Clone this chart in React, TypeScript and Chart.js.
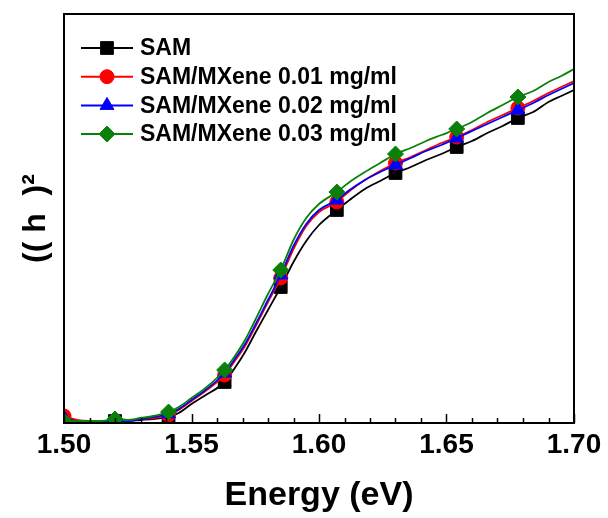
import React, { useEffect, useRef } from 'react';
import { Chart, registerables } from 'chart.js';
import { drawPoint } from 'chart.js/helpers';

Chart.register(...registerables);

// ---- data ----
const energy = [
  1.5, 1.505, 1.51, 1.515, 1.52, 1.525, 1.53, 1.535, 1.541, 1.545, 1.55, 1.555,
  1.563, 1.567, 1.571, 1.575, 1.58, 1.585, 1.59, 1.595, 1.6, 1.607, 1.612, 1.618,
  1.624, 1.63, 1.636, 1.642, 1.648, 1.654, 1.66, 1.666, 1.672, 1.678, 1.684, 1.69,
  1.695, 1.7,
];
const markerEnergy = [1.5, 1.52, 1.541, 1.563, 1.585, 1.607, 1.63, 1.654, 1.678];

const samValues = [
  0.02, 0.02, 0.02, 0.02, 0.02, 0.02, 0.03, 0.04, 0.06, 0.1, 0.19, 0.27,
  0.41, 0.55, 0.71, 0.9, 1.13, 1.36, 1.61, 1.82, 1.98, 2.13, 2.23, 2.34,
  2.42, 2.5, 2.56, 2.63, 2.69, 2.76, 2.82, 2.9, 2.97, 3.05, 3.11, 3.21,
  3.27, 3.33,
];
const mx001Values = [
  0.07, 0.03, 0.02, 0.02, 0.02, 0.02, 0.04, 0.05, 0.08, 0.13, 0.22, 0.31,
  0.48, 0.62, 0.77, 0.96, 1.21, 1.45, 1.74, 1.97, 2.11, 2.21, 2.32, 2.43,
  2.52, 2.6, 2.66, 2.73, 2.8, 2.86, 2.93, 3.01, 3.08, 3.15, 3.22, 3.3,
  3.36, 3.42,
];
const mx002Values = [
  0.05, 0.02, 0.02, 0.02, 0.02, 0.02, 0.04, 0.06, 0.09, 0.14, 0.23, 0.32,
  0.5, 0.64, 0.79, 0.98, 1.23, 1.48, 1.77, 1.99, 2.13, 2.23, 2.33, 2.43,
  2.51, 2.58, 2.65, 2.72, 2.78, 2.85, 2.92, 2.99, 3.06, 3.13, 3.2, 3.28,
  3.34, 3.4,
];
const mx003Values = [
  0.02, 0.02, 0.02, 0.02, 0.04, 0.03, 0.05, 0.07, 0.11, 0.16, 0.25, 0.34,
  0.53, 0.67, 0.83, 1.03, 1.29, 1.53, 1.83, 2.05, 2.19, 2.31, 2.41, 2.51,
  2.6, 2.69, 2.75, 2.82, 2.88, 2.94, 3.01, 3.1, 3.18, 3.26, 3.32, 3.41,
  3.47, 3.54,
];

const seriesNames = [
  'SAM',
  'SAM/MXene 0.01 mg/ml',
  'SAM/MXene 0.02 mg/ml',
  'SAM/MXene 0.03 mg/ml',
];
const seriesValues = [samValues, mx001Values, mx002Values, mx003Values];
const seriesColors = ['#000000', '#ff0000', '#0000ff', '#0a800a'];
const seriesMarkers = ['rect', 'circle', 'triangle', 'rectRot'];
const seriesMarkerRadius = [9, 7, 8, 8];

const xMin = 1.5;
const xMax = 1.7;
const xMajorStep = 0.05;
const xMinorStep = 0.01;
const yMin = 0;
const yMax = 4.09;
const xTitle = 'Energy (eV)';
const yTitle = '(( h  )²';

const FONT = "'Liberation Sans', Arial, Helvetica, sans-serif";

const frameAndTicks = {
  id: 'frameAndTicks',
  afterDraw(chart: any) {
    const { ctx, chartArea } = chart;
    const xs = chart.scales.x;
    ctx.save();
    ctx.strokeStyle = '#000';
    ctx.lineWidth = 1.5;
    const n = Math.round((xMax - xMin) / xMinorStep);
    const per = Math.round(xMajorStep / xMinorStep);
    for (let i = 0; i <= n; i++) {
      const v = xMin + i * xMinorStep;
      const px = Math.round(xs.getPixelForValue(v)) + 0.5;
      const len = i % per === 0 ? 9 : 5;
      ctx.beginPath();
      ctx.moveTo(px, chartArea.bottom);
      ctx.lineTo(px, chartArea.bottom - len);
      ctx.stroke();
    }
    ctx.lineWidth = 2;
    ctx.strokeRect(
      chartArea.left,
      chartArea.top,
      chartArea.right - chartArea.left,
      chartArea.bottom - chartArea.top
    );
    ctx.restore();
  },
};

const lineLegend = {
  id: 'lineLegend',
  afterDraw(chart: any) {
    const { ctx, chartArea } = chart;
    ctx.save();
    const x0 = chartArea.left + 17;
    const x1 = chartArea.left + 69;
    const xm = (x0 + x1) / 2;
    const xt = chartArea.left + 76;
    const y0 = chartArea.top + 34;
    const dy = 28.7;
    chart.data.datasets.forEach((ds: any, i: number) => {
      const y = y0 + i * dy;
      ctx.strokeStyle = ds.borderColor;
      ctx.fillStyle = ds.borderColor;
      ctx.lineWidth = 2;
      ctx.beginPath();
      ctx.moveTo(x0, y);
      ctx.lineTo(x1, y);
      ctx.stroke();
      ctx.lineWidth = 1;
      drawPoint(
        ctx,
        { pointStyle: ds.pointStyle, radius: seriesMarkerRadius[i], rotation: 0, borderWidth: 1 },
        xm,
        y
      );
      ctx.fillStyle = '#000';
      ctx.font = `bold 23px ${FONT}`;
      ctx.textAlign = 'left';
      ctx.textBaseline = 'middle';
      ctx.fillText(ds.label, xt, y + 1);
    });
    ctx.restore();
  },
};

export default function App() {
  const canvasRef = useRef<HTMLCanvasElement | null>(null);

  useEffect(() => {
    const canvas = canvasRef.current;
    if (!canvas) return;
    const markerIdx = new Set(
      energy.map((e, i) => (markerEnergy.includes(e) ? i : -1)).filter((i) => i >= 0)
    );
    const datasets = seriesNames.map((name, s) => ({
      label: name,
      data: energy.map((e, i) => ({ x: e, y: seriesValues[s][i] })),
      borderColor: seriesColors[s],
      backgroundColor: seriesColors[s],
      pointBackgroundColor: seriesColors[s],
      pointBorderColor: seriesColors[s],
      pointBorderWidth: 1,
      pointStyle: seriesMarkers[s],
      pointRadius: (ctx: any) => (markerIdx.has(ctx.dataIndex) ? seriesMarkerRadius[s] : 0),
      borderWidth: 1.8,
      cubicInterpolationMode: 'monotone' as const,
      order: seriesNames.length - s,
      fill: false,
    }));

    const chart = new Chart(canvas, {
      type: 'line',
      data: { datasets },
      plugins: [frameAndTicks, lineLegend],
      options: {
        animation: false,
        responsive: false,
        events: [],
        layout: { padding: { left: 0, top: 14, right: 34, bottom: 0 } },
        plugins: {
          legend: { display: false },
          tooltip: { enabled: false },
        },
        scales: {
          x: {
            type: 'linear',
            min: xMin,
            max: xMax,
            afterFit: (scale: any) => {
              scale.height = 95;
            },
            grid: { display: false, drawTicks: false },
            border: { display: false },
            ticks: {
              stepSize: xMajorStep,
              autoSkip: false,
              maxRotation: 0,
              padding: 5,
              color: '#000',
              font: { family: FONT, size: 28, weight: 'bold' },
              callback: (v: any) => Number(v).toFixed(2),
            },
            title: {
              display: true,
              text: xTitle,
              color: '#000',
              padding: { top: 0, bottom: 2 },
              font: { family: FONT, size: 34, weight: 'bold' },
            },
          },
          y: {
            type: 'linear',
            min: yMin,
            max: yMax,
            afterFit: (scale: any) => {
              scale.width = 64;
            },
            grid: { display: false, drawTicks: false },
            border: { display: false },
            ticks: { display: false },
            title: {
              display: true,
              text: yTitle,
              color: '#000',
              padding: { top: 17, bottom: 0 },
              font: { family: FONT, size: 32, weight: 'bold' },
            },
          },
        },
      },
    });
    return () => chart.destroy();
  }, []);

  return (
    <div style={{ position: 'fixed', left: 0, top: 0, width: 608, height: 518, background: '#fff' }}>
      <canvas ref={canvasRef} width={608} height={518} style={{ display: 'block' }} />
    </div>
  );
}
